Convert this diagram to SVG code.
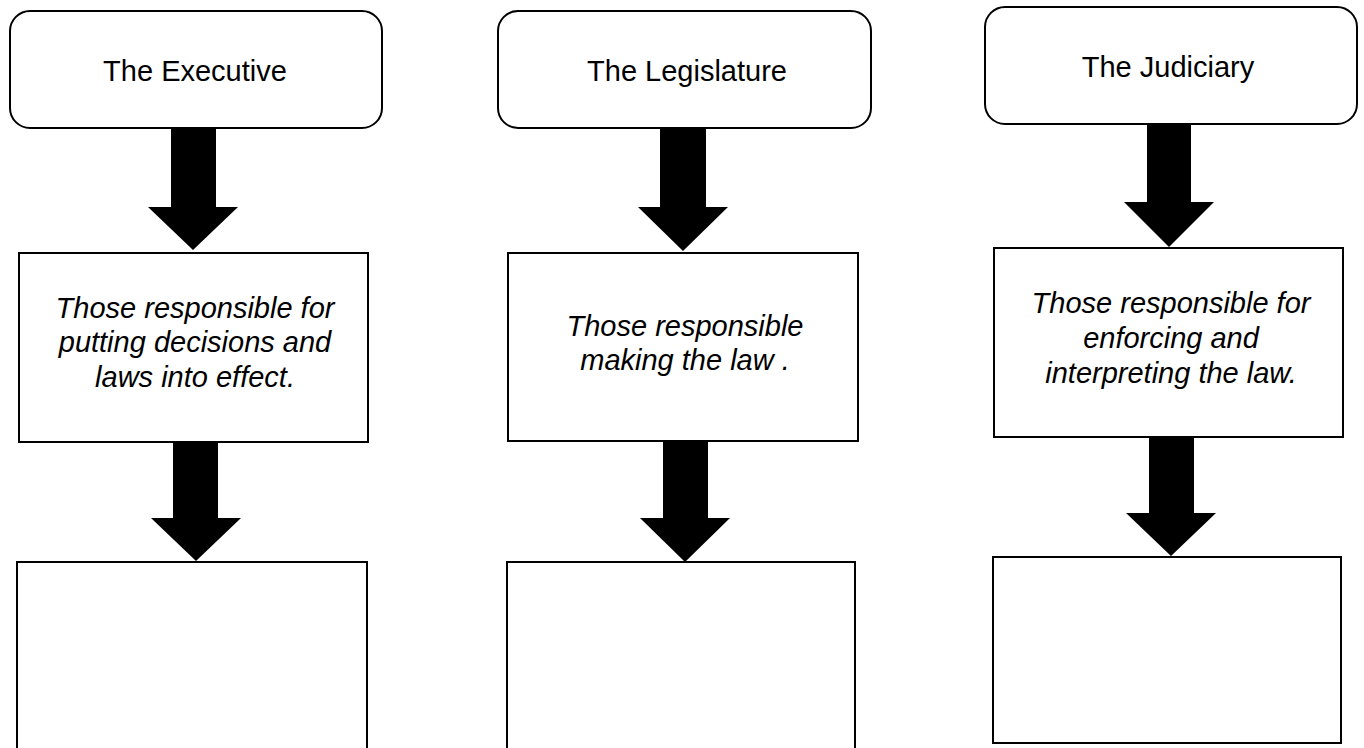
<svg xmlns="http://www.w3.org/2000/svg" width="1364" height="748" viewBox="0 0 1364 748">
<style>
.box{fill:#fff;stroke:#000;stroke-width:2}
.t{font-family:"Liberation Sans",Arial,sans-serif;font-size:29px;fill:#000;text-anchor:middle}
.i{font-style:italic}
.arr{fill:#000}
</style>
<rect width="1364" height="748" fill="#fff"/>
<g id="connectors">
<polygon class="arr" points="171,128 216,128 216,207 238,207 193,250 148,207 171,207"/>
<polygon class="arr" points="173,442 218,442 218,518 241,518 196,561 151,518 173,518"/>
<polygon class="arr" points="660,128 706,128 706,207 728,207 683,251 638,207 660,207"/>
<polygon class="arr" points="663,441 708,441 708,518 730,518 685,562 640,518 663,518"/>
<polygon class="arr" points="1147,124 1191,124 1191,202 1214,202 1169,247 1124,202 1147,202"/>
<polygon class="arr" points="1149,437 1194,437 1194,513 1216,513 1171,556 1126,513 1149,513"/>
</g>
<g id="exec">
<rect class="box" x="10" y="11" width="372" height="117" rx="20"/>
<text class="t" x="195" y="81">The Executive</text>
</g>
<g id="exec-desc">
<rect class="box" x="19" y="253" width="349" height="189"/>
<text class="t i" x="195" y="318">Those responsible for</text>
<text class="t i" x="195" y="352">putting decisions and</text>
<text class="t i" x="195" y="387">laws into effect.</text>
</g>
<g id="exec-empty">
<rect class="box" x="17" y="562" width="350" height="200"/>
</g>
<g id="leg">
<rect class="box" x="498" y="11" width="373" height="117" rx="20"/>
<text class="t" x="687" y="81">The Legislature</text>
</g>
<g id="leg-desc">
<rect class="box" x="508" y="253" width="350" height="188"/>
<text class="t i" x="685" y="336">Those responsible</text>
<text class="t i" x="685" y="370">making the law .</text>
</g>
<g id="leg-empty">
<rect class="box" x="507" y="562" width="348" height="200"/>
</g>
<g id="jud">
<rect class="box" x="985" y="7" width="372" height="117" rx="20"/>
<text class="t" x="1168" y="77">The Judiciary</text>
</g>
<g id="jud-desc">
<rect class="box" x="994" y="248" width="349" height="189"/>
<text class="t i" x="1171" y="313">Those responsible for</text>
<text class="t i" x="1171" y="348">enforcing and</text>
<text class="t i" x="1171" y="383">interpreting the law.</text>
</g>
<g id="jud-empty">
<rect class="box" x="993" y="557" width="348" height="186"/>
</g>
</svg>
